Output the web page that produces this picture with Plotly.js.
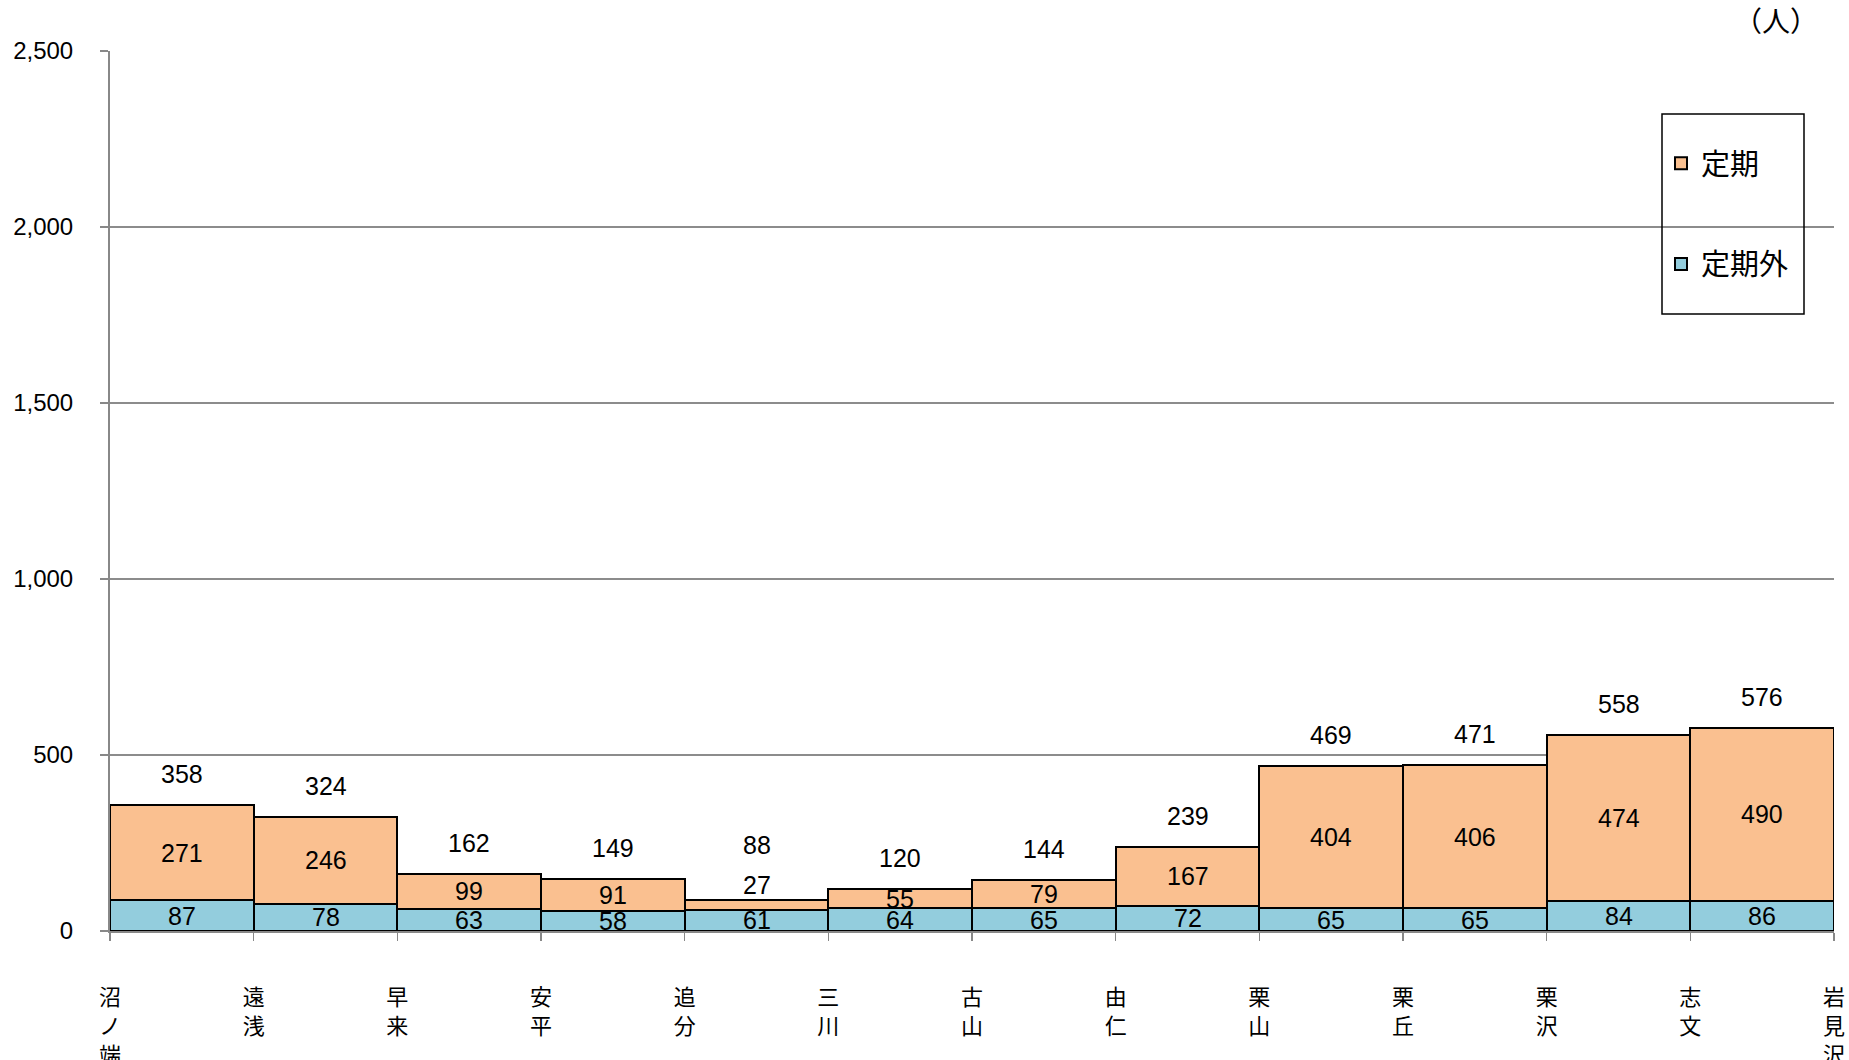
<!DOCTYPE html>
<html>
<head>
<meta charset="utf-8">
<script src="https://cdn.plot.ly/plotly-3.0.1.min.js"></script>
<style>
html,body{margin:0;padding:0;background:#fff;}
#chart{width:1849px;height:1060px;}
</style>
</head>
<body>
<div id="chart"></div>
<script>
// Stations (boundaries between segments)
const stations = ["沼<br>ノ<br>端","遠<br>浅","早<br>来","安<br>平","追<br>分","三<br>川","古<br>山","由<br>仁","栗<br>山","栗<br>丘","栗<br>沢","志<br>文","岩<br>見<br>沢"];
// Segment values
const teikiGai = [87, 78, 63, 58, 61, 64, 65, 72, 65, 65, 84, 86];      // 定期外
const teiki    = [271, 246, 99, 91, 27, 55, 79, 167, 404, 406, 474, 490]; // 定期
const totals   = [358, 324, 162, 149, 88, 120, 144, 239, 469, 471, 558, 576];
const yTicks   = [0, 500, 1000, 1500, 2000, 2500];

const centers = teiki.map((_, i) => i + 0.5);
const stationPos = stations.map((_, i) => i);

const colTeiki = '#FAC090';
const colGai = '#93CDDD';
const labelFont = {family: '"Liberation Sans",Arial,sans-serif', size: 25, color: '#000'};
const cjk = '"Noto Sans CJK JP","Noto Sans",sans-serif';

const traces = [
  {type: 'bar', name: '定期外', x: centers, y: teikiGai, width: 1,
   marker: {color: colGai, line: {color: '#000', width: 2}},
   legendgroup: 'b', legendrank: 2, hoverinfo: 'skip'},
  {type: 'bar', name: '定期', x: centers, y: teiki, width: 1,
   marker: {color: colTeiki, line: {color: '#000', width: 2}},
   legendgroup: 'a', legendrank: 1, hoverinfo: 'skip'}
];

const W = 1849, H = 1060, mL = 110, mR = 15, mT = 51, mB = 129;
const pw = W - mL - mR, ph = H - mT - mB;
const px2x = p => (p - mL) / pw;
const py2y = p => (H - mB - p) / ph;

const annotations = [];
centers.forEach((cx, i) => {
  const small = teiki[i] < 40;
  annotations.push({x: cx, y: teikiGai[i] / 2, xref: 'x', yref: 'y', text: String(teikiGai[i]),
    showarrow: false, font: labelFont, yanchor: 'middle'});
  annotations.push({x: cx, y: teikiGai[i] + teiki[i] / 2, xref: 'x', yref: 'y', text: String(teiki[i]),
    showarrow: false, font: labelFont, yanchor: 'middle', yshift: small ? 20 : 0});
  annotations.push({x: cx, y: teikiGai[i] + teiki[i], xref: 'x', yref: 'y', text: String(totals[i]),
    showarrow: false, font: labelFont, yanchor: 'middle', yshift: small ? 55 : 31});
});
annotations.push({x: px2x(1820), y: py2y(20), xref: 'paper', yref: 'paper', text: '（人）', showarrow: false,
  font: {family: cjk, size: 28, color: '#000'}, xanchor: 'right', yanchor: 'middle'});

const layout = {
  width: W, height: H,
  margin: {l: mL, r: mR, t: mT, b: mB},
  paper_bgcolor: '#fff', plot_bgcolor: '#fff',
  barmode: 'stack', bargap: 0,
  showlegend: true,
  legend: {
    x: px2x(1661), y: py2y(138), xanchor: 'left', yanchor: 'top',
    traceorder: 'grouped', tracegroupgap: 60,
    font: {family: cjk, size: 29, color: '#000'},
    borderwidth: 0, bgcolor: 'rgba(255,255,255,0)'
  },
  xaxis: {
    range: [0, 12], tickmode: 'array', tickvals: stationPos, ticktext: stations,
    ticks: 'outside', ticklen: 8, tickwidth: 1.5, tickcolor: '#888',
    showgrid: false, zeroline: false, showline: true, linecolor: '#888', linewidth: 2,
    tickangle: 0, ticklabelstandoff: 38,
    tickfont: {family: cjk, size: 22, color: '#000'}, fixedrange: true
  },
  yaxis: {
    range: [0, 2500], tickmode: 'array', tickvals: yTicks, ticktext: yTicks.map(v => v.toLocaleString('en-US')),
    ticks: 'outside', ticklen: 8, tickwidth: 1.5, tickcolor: '#888',
    showgrid: true, gridcolor: '#8c8c8c', gridwidth: 1.5,
    zeroline: false, showline: true, linecolor: '#888', linewidth: 2,
    ticklabelstandoff: 22,
    tickfont: {family: '"Liberation Sans",Arial,sans-serif', size: 24, color: '#000'}, fixedrange: true
  },
  shapes: [
    {type: 'rect', xref: 'paper', yref: 'paper', x0: px2x(1662), x1: px2x(1804), y0: py2y(314), y1: py2y(114),
     line: {color: '#000', width: 1.5}, fillcolor: 'rgba(0,0,0,0)', layer: 'above'}
  ],
  annotations: annotations
};

Plotly.newPlot('chart', traces, layout, {displayModeBar: false, staticPlot: true});
</script>
</body>
</html>
